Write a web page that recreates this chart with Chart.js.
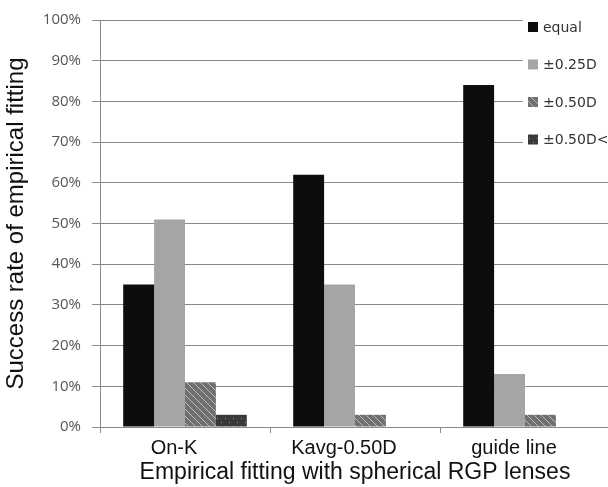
<!DOCTYPE html>
<html>
<head>
<meta charset="utf-8">
<script src="https://cdn.jsdelivr.net/npm/chart.js@4.4.0/dist/chart.umd.min.js"></script>
<style>
  html, body { margin: 0; padding: 0; background: #fff; overflow: hidden; }
  #wrap { width: 608px; height: 487px; overflow: hidden; }
</style>
</head>
<body>
<div id="wrap"><canvas id="chart" width="610" height="487"></canvas></div>
<script>
const categories = ['On-K', 'Kavg-0.50D', 'guide line'];
const seriesNames = ['equal', '\u00b10.25D', '\u00b10.50D', '\u00b10.50D<'];
const equalValues = [35, 62, 84];
const within025Values = [51, 35, 13];
const within050Values = [11, 3, 3];
const over050Values = [3, 0, 0];
const yTicks = [0, 10, 20, 30, 40, 50, 60, 70, 80, 90, 100];

// hatched fill for ±0.50D
function hatchPattern() {
    var c = document.createElement('canvas');
    c.width = 7; c.height = 7;
    var g = c.getContext('2d');
    g.fillStyle = '#707070';
    g.fillRect(0, 0, 7, 7);
    g.strokeStyle = '#b8b8b8';
    g.lineWidth = 1;
    g.beginPath();
    g.moveTo(-1, -1); g.lineTo(8, 8);
    g.moveTo(-8, -1); g.lineTo(1, 8);
    g.moveTo(6, -1); g.lineTo(15, 8);
    g.stroke();
    return g.createPattern(c, 'repeat');
}

// dotted fill for ±0.50D<
function dotPattern() {
    var c = document.createElement('canvas');
    c.width = 8; c.height = 8;
    var g = c.getContext('2d');
    g.fillStyle = '#3a3a3a';
    g.fillRect(0, 0, 8, 8);
    g.fillStyle = '#9a9a9a';
    g.fillRect(1, 2, 1, 1);
    g.fillRect(5, 6, 1, 1);
    return g.createPattern(c, 'repeat');
}

var hatch = hatchPattern();
var dots = dotPattern();
var colors = ['#0d0d0d', '#a5a5a5', hatch, dots];
var values = [equalValues, within025Values, within050Values, over050Values];

// legend drawn over the right top of the plot, like the original
const sideLegend = {
    id: 'sideLegend',
    afterDraw: function(chart) {
        var ctx = chart.ctx;
        ctx.save();
        ctx.fillStyle = '#ffffff';
        ctx.fillRect(523, 0, 90, 160);
        ctx.font = '14px "DejaVu Sans"';
        ctx.textBaseline = 'middle';
        chart.data.datasets.forEach(function(ds, i) {
            var y = 27 + i * 37.5;
            ctx.fillStyle = ds.backgroundColor;
            ctx.fillRect(528, y - 5, 10, 10);
            ctx.fillStyle = '#333';
            ctx.fillText(ds.label, 543, y + 1);
        });
        ctx.restore();
    }
};

var ctx = document.getElementById('chart').getContext('2d');

var data = {
    labels: categories,
    datasets: seriesNames.map(function(name, i) {
        return {
            label: name,
            data: values[i],
            backgroundColor: colors[i],
            borderWidth: 0,
            categoryPercentage: 0.727,
            barPercentage: 1.0
        };
    })
};

var options = {
    responsive: false,
    animation: false,
    layout: { padding: { top: 19, right: 0, bottom: 0, left: 0 } },
    plugins: {
        legend: { display: false },
        tooltip: { enabled: false }
    },
    scales: {
        x: {
            grid: { display: true, drawOnChartArea: false, drawTicks: true, tickLength: 6, color: '#8a8a8a', offset: true },
            border: { display: true, color: '#8a8a8a' },
            ticks: { color: '#111', font: { family: 'Liberation Sans', size: 20 }, padding: 3, labelOffset: -11 },
            title: { display: true, text: 'Empirical fitting with spherical RGP lenses', color: '#111', font: { family: 'Liberation Sans', size: 23 }, padding: { top: 0, bottom: 1 } },
            afterFit: function(scale) { scale.height = 60; }
        },
        y: {
            min: 0,
            max: 100,
            afterBuildTicks: function(scale) { scale.ticks = yTicks.map(function(v) { return { value: v }; }); },
            grid: { color: '#8a8a8a', tickLength: 8, lineWidth: 1 },
            border: { display: true, color: '#8a8a8a' },
            ticks: { color: '#555', font: { family: 'Open Sans', size: 15 }, padding: 11, callback: function(v) { return v + '%'; } },
            title: { display: true, text: 'Success rate of empirical fitting', color: '#111', font: { family: 'Liberation Sans', size: 24 }, padding: { top: 2, bottom: 0 } },
            afterFit: function(scale) { scale.width = 100; }
        }
    }
};

new Chart(ctx, {
    type: 'bar',
    data: data,
    options: options,
    plugins: [sideLegend]
});
</script>
</body>
</html>
